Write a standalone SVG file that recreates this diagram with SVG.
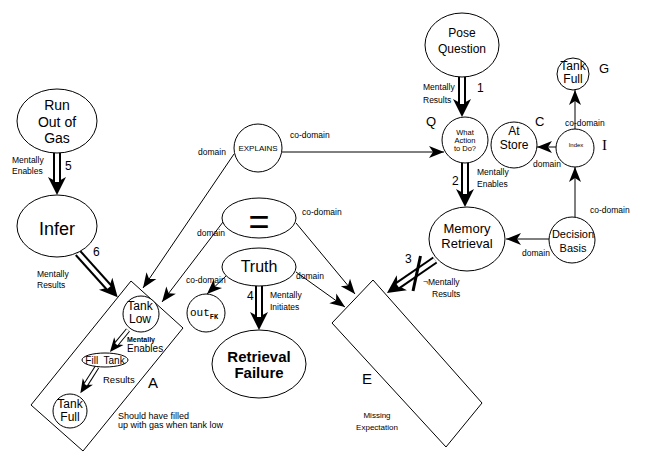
<svg xmlns="http://www.w3.org/2000/svg" width="646" height="464" viewBox="0 0 646 464">
<style>
.n{fill:#fff;stroke:#000;stroke-width:1}
.bx{fill:none;stroke:#000;stroke-width:1}
text{font-family:"Liberation Sans",Arial,sans-serif;fill:#000}
text.mono{font-family:"Liberation Mono","Courier New",monospace}
text.serif{font-family:"Liberation Serif","Times New Roman",serif}
.c{text-anchor:middle}
.s{font-size:8.5px}
.m{font-size:12px}
.big{font-size:14px}
.l{stroke:#000;stroke-width:1;fill:none;marker-end:url(#hn)}
.dk{stroke:#000;stroke-width:8;fill:none;marker-end:url(#hd)}
.dw{stroke:#fff;stroke-width:4;fill:none}
.tk{stroke:#000;stroke-width:5;fill:none;marker-end:url(#hs)}
.tw{stroke:#fff;stroke-width:3;fill:none}
</style>
<defs>
<marker id="hn" markerUnits="userSpaceOnUse" markerWidth="16" markerHeight="13" refX="15" refY="6" orient="auto" overflow="visible"><path d="M0,0 L15,6 L0,12 L4,6 z" fill="#000"/></marker>
<marker id="hd" markerUnits="userSpaceOnUse" markerWidth="19" markerHeight="19" refX="5" refY="9" orient="auto" overflow="visible"><path d="M0,0 L18,9 L0,18 L5,9 z" fill="#000"/></marker>
<marker id="hs" markerUnits="userSpaceOnUse" markerWidth="15" markerHeight="13" refX="4" refY="6" orient="auto" overflow="visible"><path d="M0,0 L14,6 L0,12 L4,6 z" fill="#000"/></marker>
</defs>
<rect width="646" height="464" fill="#fff"/>

<g id="boxA">
<polygon class="bx" points="131,281 183,328 83,451 31,405"/>
<text x="148" y="388" font-size="15">A</text>
<text x="118" y="419" font-size="9">Should have filled</text>
<text x="118" y="428" font-size="9">up with gas when tank low</text>
</g>
<g id="boxE">
<polygon class="bx" points="373,280 482,403 446,447 332,323"/>
<text x="362" y="384" font-size="15">E</text>
<text x="377" y="418" class="c" font-size="8">Missing</text>
<text x="377" y="430" class="c" font-size="8">Expectation</text>
</g>

<g id="connectors">
<path class="dk" d="M57,153 L57,182"/><path class="dw" d="M57,153 L57,182"/>
<path class="dk" d="M78,253 L109,287.5"/><path class="dw" d="M78,253 L109,287.5"/>
<path class="dk" d="M462,77 L462,104"/><path class="dw" d="M462,77 L462,104"/>
<path class="dk" d="M465,163 L465,194"/><path class="dw" d="M465,163 L465,194"/>
<path class="dk" d="M259,286 L259,317"/><path class="dw" d="M259,286 L259,317"/>
<path class="dk" d="M435,260 L397.7,285.6"/><path class="dw" d="M435,260 L397.7,285.6"/>
<line x1="420.5" y1="256" x2="413" y2="291" stroke="#000" stroke-width="3"/>
<path class="tk" d="M128,330 L116.3,344.2"/><path class="tw" d="M128,330 L116.3,344.2"/>
<path class="tk" d="M97,367 L85.7,384.8"/><path class="tw" d="M97,367 L85.7,384.8"/>
<path class="l" d="M282,152 L444,152"/>
<path class="l" d="M234,154 L143,288"/>
<path class="l" d="M223,222 L162,302"/>
<path class="l" d="M296,223 L355,294"/>
<path class="l" d="M296,272 L345,307"/>
<path class="l" d="M226,276 L207,294"/>
<path class="l" d="M556,147 L537,147"/>
<path class="l" d="M549,239 L506,239"/>
<path class="l" d="M575,217 L575,167"/>
<path class="l" d="M575,129 L575,90"/>
<text x="12" y="163" class="s">Mentally</text>
<text x="12" y="174" class="s">Enables</text>
<text x="65" y="170" class="m">5</text>
<text x="93" y="256" class="m">6</text>
<text x="37" y="277" class="s">Mentally</text>
<text x="37" y="288" class="s">Results</text>
<text x="127" y="342" font-size="7" font-weight="bold">Mentally</text>
<text x="127" y="352" font-size="10">Enables</text>
<text x="103" y="383" font-size="9.5">Results</text>
<text x="198" y="155" class="s">domain</text>
<text x="290" y="138" class="s">co-domain</text>
<text x="197" y="236" class="s">domain</text>
<text x="302" y="215" class="s">co-domain</text>
<text x="296" y="279" class="s">domain</text>
<text x="186" y="283" class="s">co-domain</text>
<text x="247" y="300" class="m">4</text>
<text x="270" y="298" class="s">Mentally</text>
<text x="270" y="310" class="s">Initiates</text>
<text x="423" y="90" class="s">Mentally</text>
<text x="423" y="103" class="s">Results</text>
<text x="477" y="92" class="m">1</text>
<text x="452" y="185" class="m">2</text>
<text x="477" y="175" class="s">Mentally</text>
<text x="477" y="187" class="s">Enables</text>
<text x="565" y="126" class="s">co-domain</text>
<text x="533" y="167" class="s">domain</text>
<text x="590" y="213" class="s">co-domain</text>
<text x="522" y="256" class="s">domain</text>
<text x="405" y="263" class="m">3</text>
<text x="423" y="285" class="s">¬Mentally</text>
<text x="432" y="297" class="s">Results</text>
</g>

<g id="runOutOfGas">
<ellipse class="n" cx="57" cy="121" rx="40" ry="32"/>
<text x="57" y="110" class="c big">Run</text>
<text x="57" y="127" class="c big">Out of</text>
<text x="57" y="143" class="c big">Gas</text>
</g>
<g id="infer">
<ellipse class="n" cx="57" cy="226" rx="40" ry="31"/>
<text x="57" y="235" class="c" font-size="18">Infer</text>
</g>
<g id="explains">
<circle class="n" cx="258" cy="148" r="24"/>
<text x="258" y="151" class="c" font-size="8">EXPLAINS</text>
</g>
<g id="equals">
<ellipse class="n" cx="259" cy="218" rx="37" ry="20"/>
<text x="259" y="234" class="c" font-size="36">=</text>
</g>
<g id="truth">
<ellipse class="n" cx="259" cy="267" rx="37" ry="19"/>
<text x="259" y="272" class="c" font-size="16">Truth</text>
</g>
<g id="outFK">
<circle class="n" cx="206" cy="313" r="19"/>
<text x="190" y="316" class="mono" font-size="11">out<tspan font-size="7" font-weight="bold" dy="3">FK</tspan></text>
</g>
<g id="retrievalFailure">
<ellipse class="n" cx="259" cy="364" rx="47" ry="34"/>
<text x="259" y="362" class="c" font-size="15" font-weight="bold">Retrieval</text>
<text x="259" y="378" class="c" font-size="15" font-weight="bold">Failure</text>
</g>
<g id="poseQuestion">
<ellipse class="n" cx="462" cy="45" rx="37" ry="32"/>
<text x="462" y="37" class="c" font-size="12">Pose</text>
<text x="462" y="53" class="c" font-size="12">Question</text>
</g>
<g id="whatAction">
<circle class="n" cx="465" cy="140" r="23"/>
<text x="465" y="135" class="c" font-size="7.5">What</text>
<text x="465" y="143" class="c" font-size="7.5">Action</text>
<text x="465" y="151" class="c" font-size="7.5">to Do?</text>
<text x="426" y="126" font-size="13">Q</text>
</g>
<g id="atStore">
<circle class="n" cx="514" cy="145" r="23"/>
<text x="514" y="135" class="c m">At</text>
<text x="514" y="149" class="c m">Store</text>
<text x="535" y="126" font-size="13">C</text>
</g>
<g id="index">
<circle class="n" cx="575" cy="148" r="19"/>
<text x="576" y="147" class="c" font-size="6">Index</text>
<text x="602" y="150" class="serif" font-size="15">I</text>
</g>
<g id="tankFullG">
<circle class="n" cx="573" cy="74" r="16"/>
<text x="573" y="70" class="c m">Tank</text>
<text x="573" y="83" class="c m">Full</text>
<text x="599" y="73" font-size="13">G</text>
</g>
<g id="memoryRetrieval">
<ellipse class="n" cx="467" cy="239" rx="38" ry="32"/>
<text x="467" y="233" class="c" font-size="13">Memory</text>
<text x="467" y="248" class="c" font-size="13">Retrieval</text>
</g>
<g id="decisionBasis">
<circle class="n" cx="572" cy="240" r="23"/>
<text x="573" y="238" class="c" font-size="11">Decision</text>
<text x="573" y="252" class="c" font-size="11">Basis</text>
</g>
<g id="tankLow">
<circle class="n" cx="141" cy="314" r="18"/>
<text x="140" y="310" class="c m">Tank</text>
<text x="140" y="323" class="c m">Low</text>
</g>
<g id="fillTank">
<ellipse class="n" cx="105" cy="360" rx="23" ry="7"/>
<text x="105" y="364" class="c" font-size="10" xml:space="preserve">Fill  Tank</text>
</g>
<g id="tankFullA">
<circle class="n" cx="70" cy="411" r="17"/>
<text x="70" y="408" class="c m">Tank</text>
<text x="70" y="421" class="c m">Full</text>
</g>
</svg>
